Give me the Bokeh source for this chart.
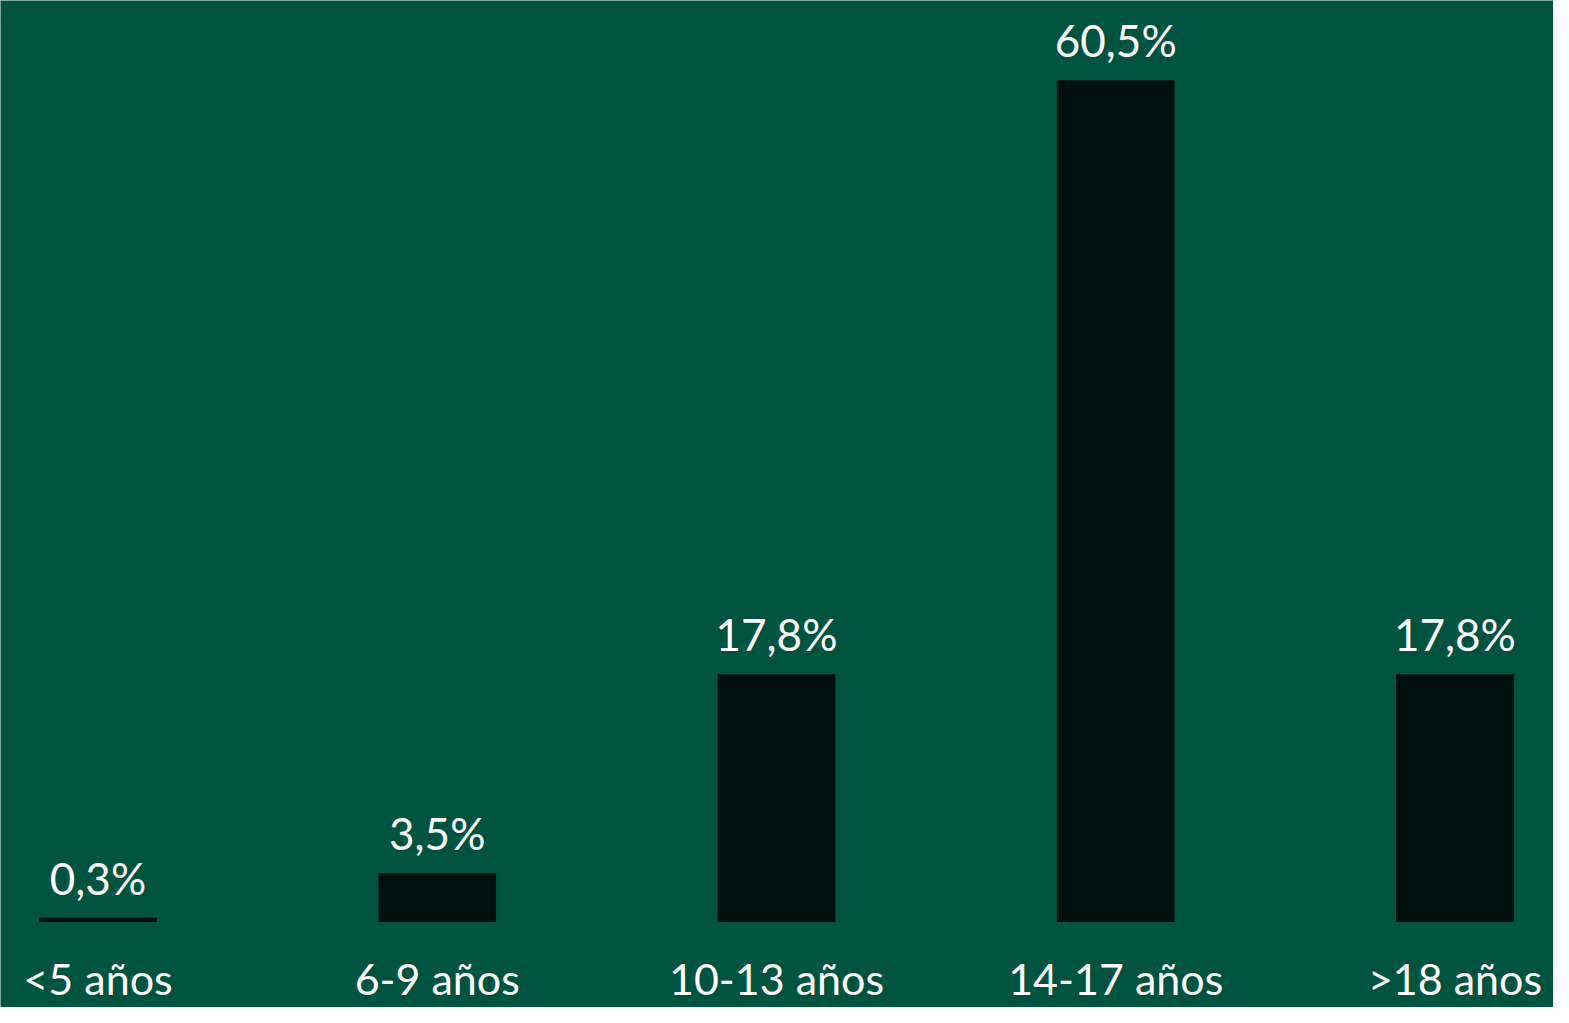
from bokeh.plotting import figure
from bokeh.models import ColumnDataSource, Range1d
from bokeh.core.properties import value
from bokeh.embed import file_html
from bokeh.resources import INLINE

categories = ["<5 años", "6-9 años", "10-13 años", "14-17 años", ">18 años"]
values = [0.3, 3.5, 17.8, 60.5, 17.8]
value_labels = ["0,3%", "3,5%", "17,8%", "60,5%", "17,8%"]

BG = "#00533F"
BAR = "#00110D"
FONT = "Lato"

src = ColumnDataSource(dict(
    x=list(range(len(categories))),
    top=values,
    zero=[0] * len(values),
    vlab=value_labels,
    cat=categories,
))

p = figure(width=1553, height=1007, output_backend="svg", toolbar_location=None,
           x_range=Range1d(-0.2874, 4.2904), y_range=Range1d(-6.15, 66.24),
           min_border=0, background_fill_color=BG, border_fill_color=BG,
           outline_line_color=None)
p.axis.visible = False
p.grid.visible = False

p.vbar(x="x", top="top", bottom=0, width=0.347, source=src,
       fill_color=BAR, line_color=None)

p.text(x="x", y="top", text="vlab", source=src, text_align="center",
       text_baseline="alphabetic", y_offset=-40, text_color="#FFFFFF",
       text_font=value(FONT), text_font_size="44px")

p.text(x="x", y="zero", text="cat", source=src, text_align="center",
       text_baseline="alphabetic", y_offset=57, text_color="#FFFFFF",
       text_font=value(FONT), text_font_size="43px")

open("out.html", "w").write(file_html(p, INLINE))
